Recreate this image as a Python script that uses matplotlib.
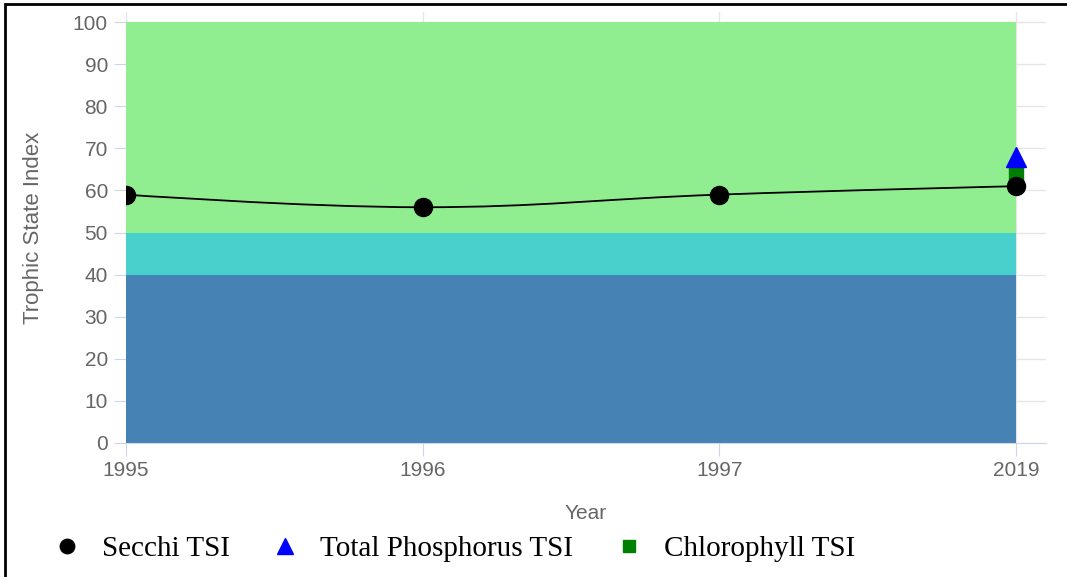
import numpy as np
import matplotlib
matplotlib.use("Agg")
import matplotlib.pyplot as plt
from matplotlib.path import Path
from matplotlib.patches import PathPatch, Rectangle

years = ["1995", "1996", "1997", "2019"]
secchi = [59, 56, 59, 61]
phosphorus = [None, None, None, 68]
chlorophyll = [None, None, None, 64]
# trophic bands (stacked)
band_oligo = [40, 40, 40, 40]
band_meso = [10, 10, 10, 10]
band_eutro = [50, 50, 50, 50]

plt.rcParams["font.family"] = ["Liberation Sans", "DejaVu Sans"]

fig = plt.figure(figsize=(10.67, 5.77), dpi=100)
W, H = 1067, 577
ax = fig.add_axes([126 / W, (577 - 443) / H, (1046 - 126) / W, (443 - 12) / H])

x = np.arange(len(years))
b1 = np.array(band_oligo)
b2 = b1 + np.array(band_meso)
b3 = b2 + np.array(band_eutro)
ax.fill_between(x, 0, b1, color="#4682B4", lw=0, zorder=2)
ax.fill_between(x, b1, b2, color="#48D1CC", lw=0, zorder=2)
ax.fill_between(x, b2, b3, color="#90EE90", lw=0, zorder=2)


# highcharts-like spline through the secchi points
def spline_path(xs, ys, smoothing=1.5):
    verts = [(xs[0], ys[0])]
    codes = [Path.MOVETO]
    n = len(xs)
    ctrl = []
    for i in range(n):
        if 0 < i < n - 1:
            denom = smoothing + 1
            lx = (smoothing * xs[i] + xs[i - 1]) / denom
            ly = (smoothing * ys[i] + ys[i - 1]) / denom
            rx = (smoothing * xs[i] + xs[i + 1]) / denom
            ry = (smoothing * ys[i] + ys[i + 1]) / denom
            corr = (ry - ly) * (rx - xs[i]) / (rx - lx) + ys[i] - ry
            ly += corr
            ry += corr
            ctrl.append(((lx, ly), (rx, ry)))
        else:
            ctrl.append(((xs[i], ys[i]), (xs[i], ys[i])))
    for i in range(1, n):
        verts += [ctrl[i - 1][1], ctrl[i][0], (xs[i], ys[i])]
        codes += [Path.CURVE4] * 3
    return Path(verts, codes)


ax.add_patch(PathPatch(spline_path(list(x), secchi), fill=False, color="black", lw=1.3, zorder=4))

chl = np.array([np.nan if v is None else v for v in chlorophyll], dtype=float)
tp = np.array([np.nan if v is None else v for v in phosphorus], dtype=float)
h_chl, = ax.plot(x, chl, "s", color="green", ms=10, ls="none", zorder=5, label="Chlorophyll TSI")
h_tp, = ax.plot(x, tp, "^", color="blue", ms=14, ls="none", zorder=6, label="Total Phosphorus TSI")
h_sec, = ax.plot(x, secchi, "o", color="black", ms=13, ls="none", zorder=7, label="Secchi TSI")

ax.set_xlim(0, 3 + 30 / 296.7)
ax.set_ylim(0, 100 + 10 / 4.21)
ax.set_yticks(range(0, 101, 10))
ax.set_xticks(x)
ax.set_xticklabels(years)
ax.grid(True, color="#e6e6e6", lw=1, zorder=0)
ax.set_axisbelow(True)
for s in ["top", "right", "left"]:
    ax.spines[s].set_visible(False)
ax.spines["bottom"].set_color("#ccd6eb")
ax.tick_params(axis="both", colors="#ccd6eb", labelcolor="#666666", labelsize=15, length=9)
ax.tick_params(axis="y", pad=4)
ax.tick_params(axis="x", pad=4)
ax.set_ylabel("Trophic State Index", color="#666666", fontsize=16, labelpad=21)
ax.set_xlabel("Year", color="#666666", fontsize=15, labelpad=17)

leg = fig.legend(handles=[h_sec, h_tp, h_chl], loc="center", bbox_to_anchor=(452 / W, 1 - 549 / H),
                 ncol=3, frameon=False, prop={"family": "Liberation Serif", "size": 21},
                 handletextpad=0.6, columnspacing=1.3, handlelength=1.2, markerscale=0.8)

border = Rectangle((5 / 100, -1.0), 11, (577 - 4) / 100 + 1.0, transform=fig.dpi_scale_trans,
                   fill=False, ec="black", lw=2)
fig.patches.append(border)

fig.savefig("out.png", dpi=100)
